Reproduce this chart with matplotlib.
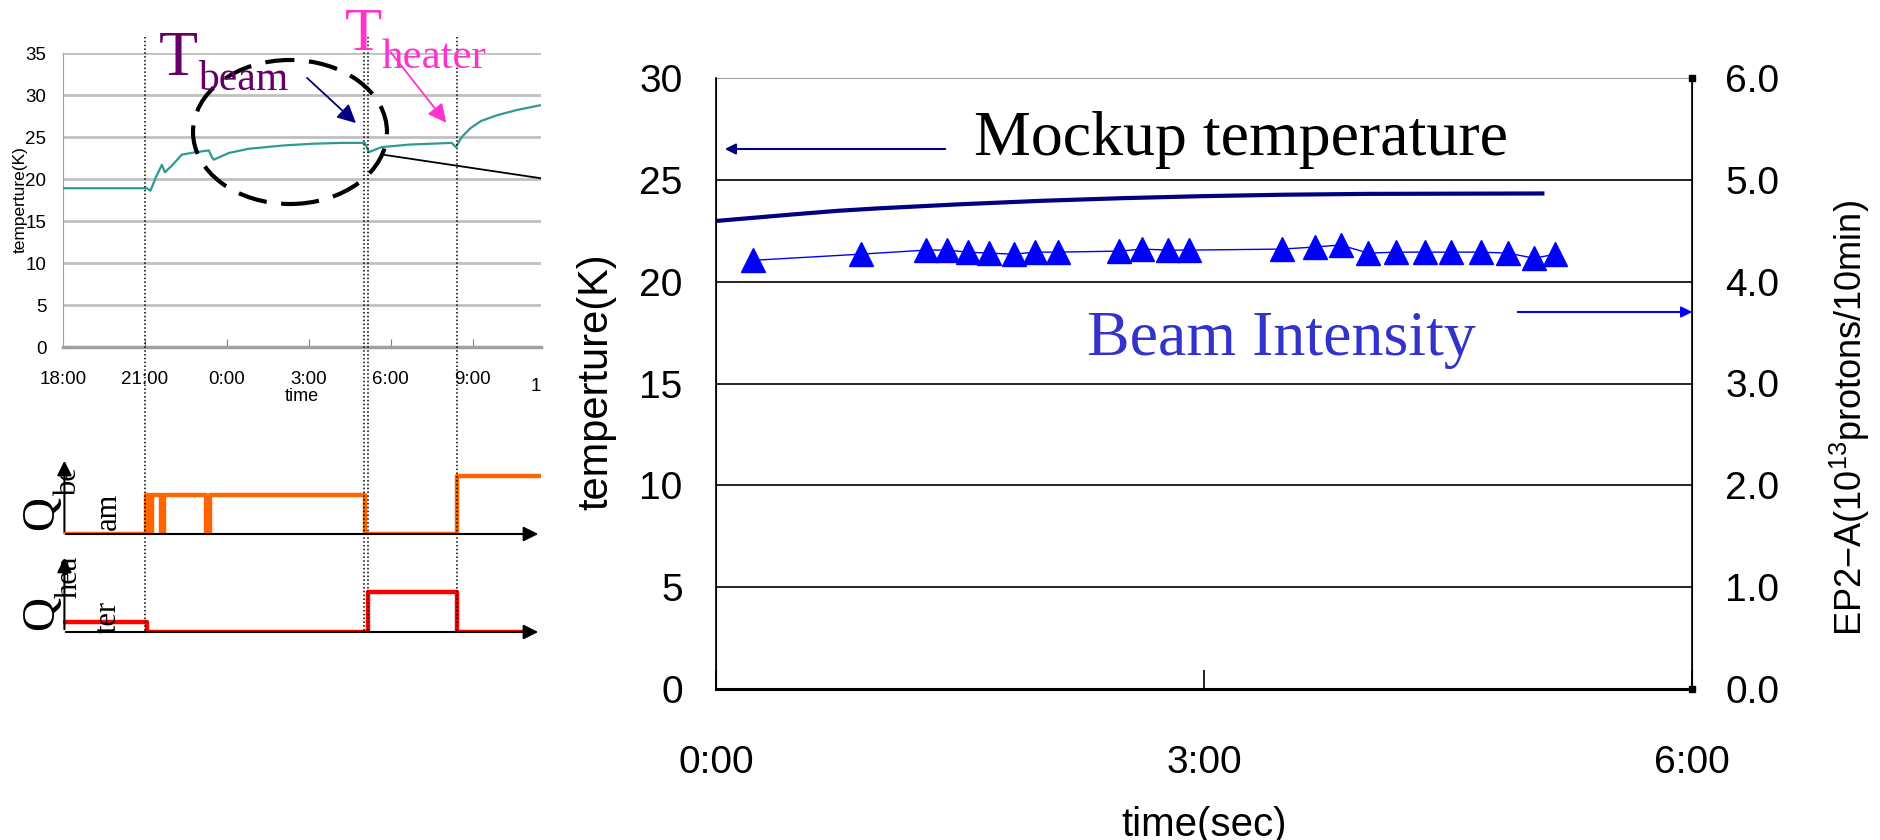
import matplotlib.pyplot as plt
from matplotlib.patches import Ellipse
from matplotlib.transforms import Bbox, TransformedBbox

W, H = 1881, 840
plt.rcParams['font.family'] = ['Liberation Sans', 'DejaVu Sans']
plt.rcParams['mathtext.default'] = 'regular'
SERIF = ['Liberation Serif', 'DejaVu Serif']

# ---- left panel: temperature log (hours after 18:00) ----
log_hours = [0, 2.9, 3.07, 3.2, 3.4, 3.62, 3.73, 3.99, 4.35, 4.87, 5.34, 5.45, 5.52,
             6.07, 6.8, 8.1, 9.15, 10.2, 11.05, 11.2, 11.67, 12.7, 14.23, 14.38,
             14.6, 14.9, 15.3, 15.9, 16.6, 17.5]
log_temp = [18.9, 18.9, 18.9, 18.6, 20.2, 21.7, 20.8, 21.6, 22.9, 23.2, 23.4, 22.6, 22.3,
            23.1, 23.6, 24.0, 24.2, 24.3, 24.3, 23.2, 23.8, 24.1, 24.3, 23.8,
            25.0, 26.0, 26.9, 27.6, 28.2, 28.8]
log_ticks = [0, 3, 6, 9, 12, 15]
log_ticklabels = ['18:00', '21:00', '0:00', '3:00', '6:00', '9:00']
event_hours = [3.0, 11.02, 11.16, 14.42]

beam_hours = [0, 3.0, 3.12, 3.22, 3.55, 3.65, 5.2, 5.35, 11.02, 14.42, 17.5]
beam_level = [0, 1, 0, 1, 0, 1, 0, 1, 0, 1.5, 1.5]
heater_hours = [0, 3.05, 11.16, 14.42, 16.9]
heater_level = [0.25, 0, 1, 0, 0]

# ---- right panel: mockup temperature and beam intensity (hours) ----
mock_hours = [0, 0.25, 0.5, 0.75, 1.0, 1.5, 2.0, 2.5, 3.0, 3.5, 4.0, 5.08]
mock_temp = [22.98, 23.15, 23.32, 23.48, 23.6, 23.8, 23.97, 24.1, 24.2, 24.27, 24.31, 24.33]
beam_t = [0.23, 0.89, 1.29, 1.42, 1.55, 1.68, 1.83, 1.96, 2.10, 2.48, 2.62, 2.78, 2.91,
          3.48, 3.68, 3.84, 4.01, 4.18, 4.36, 4.52, 4.70, 4.87, 5.03, 5.16]
beam_int = [4.21, 4.27, 4.31, 4.31, 4.29, 4.28, 4.27, 4.29, 4.29, 4.30, 4.32, 4.31, 4.31,
            4.32, 4.34, 4.36, 4.28, 4.29, 4.29, 4.29, 4.29, 4.28, 4.23, 4.27]
time_ticks = [0, 3, 6]
time_labels = ['0:00', '3:00', '6:00']


def fr(x0, y0, x1, y1):
    # pixel box (top-left origin) -> figure fraction rect
    return [x0 / W, 1 - y1 / H, (x1 - x0) / W, (y1 - y0) / H]


fig = plt.figure(figsize=(W / 100, H / 100), dpi=100)
LX0, LX1, LXMAX = 63, 541, 17.5

# small temperature chart
axs = fig.add_axes(fr(LX0, 53, LX1, 347))
for v in range(5, 40, 5):
    axs.axhline(v, color='#C0C0C0', lw=2, zorder=1)
axs.plot(log_hours, log_temp, color='#2E9A94', lw=1.6, zorder=3)
axs.set_xlim(0, LXMAX)
axs.set_ylim(0, 35)
axs.set_yticks(range(0, 40, 5))
axs.set_xticks(log_ticks)
axs.set_xticklabels(log_ticklabels)
for s in ['top', 'right']:
    axs.spines[s].set_visible(False)
axs.spines['left'].set_color('#A0A0A0')
axs.spines['bottom'].set_color('#A0A0A0')
axs.spines['bottom'].set_linewidth(2.5)
axs.tick_params(axis='y', length=0, pad=12, labelsize=13.5)
axs.tick_params(axis='x', direction='in', length=6, color='#808080', pad=17, labelsize=13.5)
axs.set_xlabel('time', fontsize=13, labelpad=0)
fig.text(20 / W, 1 - 200 / H, 'temperture(K)', rotation=90, fontsize=12.5,
         ha='center', va='center')
t12 = axs.text(18, -0.105, '12:00', transform=axs.get_xaxis_transform(),
               ha='center', va='top', fontsize=13.5, clip_on=True)
t12.set_clip_box(TransformedBbox(Bbox.from_extents(0, 0, LX1 / W, 1), fig.transFigure))
# leader line from the ellipse
axs.plot([11.79, 17.47], [22.86, 20.1], color='k', lw=1.3, clip_on=False, zorder=4)

# beam / heater timing
axb = fig.add_axes(fr(LX0, 458, LX1, 534))
axb.step(beam_hours, beam_level, where='post', color='#FF6600', lw=3.2, zorder=3)
axb.set_ylim(0, 1.95)
axh = fig.add_axes(fr(LX0, 555, LX1, 632))
axh.step(heater_hours, heater_level, where='post', color='#FF0000', lw=3.2, zorder=3)
axh.set_ylim(0, 1.93)
for a in (axb, axh):
    a.set_xlim(-0.05, LXMAX)
    a.axis('off')
    a.annotate('', xy=(1, 0), xytext=(0, 0), xycoords='axes fraction',
               arrowprops=dict(arrowstyle='-|>', color='k', lw=1.5, mutation_scale=22))
    a.annotate('', xy=(0.003, 1), xytext=(0.003, 0), xycoords='axes fraction',
               arrowprops=dict(arrowstyle='-|>', color='k', lw=1.5, mutation_scale=22))

for (qx, qy), (s1, s1x, s1y), (s2, s2x, s2y) in [
        ((42, 513), ('be', 69, 482), ('am', 108, 511)),
        ((42, 613), ('hea', 69, 577), ('ter', 108, 617))]:
    fig.text(qx / W, 1 - qy / H, 'Q', family=SERIF, fontsize=34, rotation=90,
             ha='center', va='center')
    fig.text(s1x / W, 1 - s1y / H, s1, family=SERIF, fontsize=22, rotation=90,
             ha='center', va='center')
    fig.text(s2x / W, 1 - s2y / H, s2, family=SERIF, fontsize=22, rotation=90,
             ha='center', va='center')

# dotted event markers across the left panel
axo = fig.add_axes(fr(LX0, 0, LX1, H), facecolor='none')
axo.set_xlim(0, LXMAX)
axo.set_ylim(H, 0)
axo.axis('off')
axo.vlines(event_hours, 37, 632, colors='k', linestyles=(0, (1, 1.5)), lw=1.1)

# ellipse and titles
fig.add_artist(Ellipse((290 / W, 1 - 132 / H), 194 / W, 144 / H, transform=fig.transFigure,
                       fill=False, ec='k', lw=3, ls=(0, (7, 3.5))))
fig.text(159 / W, 1 - 75 / H, 'T', family=SERIF, fontsize=46, color='#660066',
         va='baseline')
fig.text(198 / W, 1 - 90 / H, 'beam', family=SERIF, fontsize=30, color='#660066',
         va='baseline')
fig.text(345 / W, 1 - 50 / H, 'T', family=SERIF, fontsize=44, color='#FF33CC',
         va='baseline')
fig.text(382 / W, 1 - 68 / H, 'heater', family=SERIF, fontsize=31, color='#FF33CC',
         va='baseline')
ann = dict(xycoords='figure pixels', textcoords='figure pixels')
axs.annotate('', xy=(358, H - 125), xytext=(305, H - 76), **ann,
             arrowprops=dict(arrowstyle='-|>', color='#000080', lw=1.3, mutation_scale=28))
axs.annotate('', xy=(448, H - 125), xytext=(389, H - 50), **ann,
             arrowprops=dict(arrowstyle='-|>', color='#FF33CC', lw=1.3, mutation_scale=28))

# ---- right chart ----
ax = fig.add_axes(fr(716, 78, 1692, 689))
ax.plot(mock_hours, mock_temp, color='#000080', lw=3, zorder=3)
ax.set_xlim(0, 6)
ax.set_ylim(0, 30)
ax.set_yticks(range(0, 35, 5))
ax.set_xticks(time_ticks)
ax.set_xticklabels(time_labels)
ax.grid(axis='y', color='k', lw=1.2)
gl = ax.get_ygridlines()
gl[0].set_visible(False)
gl[-1].set_visible(False)
ax.spines['top'].set_color('#A0A0A0')
ax.spines['left'].set_linewidth(1.2)
ax.spines['bottom'].set_linewidth(2.2)
ax.tick_params(axis='y', length=0, pad=24, labelsize=28)
ax.tick_params(axis='x', direction='in', length=14, width=1.2, pad=40, labelsize=28)
ax.set_xlabel('time(sec)', fontsize=29, labelpad=18)

ax2 = ax.twinx()
ax2.plot(beam_t, beam_int, color='#0000FF', lw=1, marker='^', ms=17, zorder=4)
ax2.set_ylim(0, 6)
ax2.set_yticks(range(0, 7))
ax2.set_yticklabels([f'{v:.1f}' for v in range(0, 7)])
ax2.tick_params(axis='y', length=0, pad=24, labelsize=28)
ax2.spines['top'].set_visible(False)
ax2.spines['right'].set_linewidth(1.2)
ax2.plot([6, 6], [0, 6], 's', color='k', ms=4, clip_on=False)

fig.text(596 / W, 1 - 382 / H, 'temperture(K)', rotation=90, fontsize=30,
         ha='center', va='center')
fig.text(1850 / W, 1 - 418 / H, 'EP2\u2212A(10$^{13}$protons/10min)', rotation=90,
         fontsize=26, ha='center', va='center')

fig.text(974 / W, 1 - 155 / H, 'Mockup temperature', family=SERIF, fontsize=46,
         color='k', va='baseline')
fig.text(1087 / W, 1 - 355 / H, 'Beam Intensity', family=SERIF, fontsize=46,
         color='#3333CC', va='baseline')
ax.annotate('', xy=(722, H - 149), xytext=(948, H - 149), **ann,
            arrowprops=dict(arrowstyle='-|>', color='#000080', lw=1.5, mutation_scale=16))
ax.annotate('', xy=(1695, H - 312), xytext=(1515, H - 312), **ann,
            arrowprops=dict(arrowstyle='-|>', color='#0000FF', lw=1.5, mutation_scale=16))

fig.savefig('out.png', dpi=100)
